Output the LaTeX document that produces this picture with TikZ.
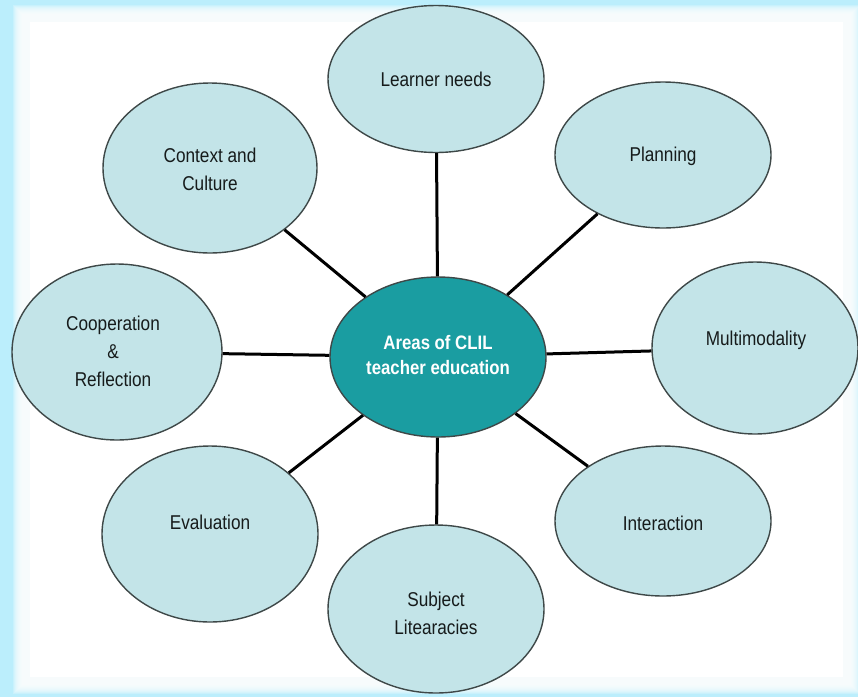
\documentclass[tikz,border=0pt]{standalone}
\usepackage{fontspec}
\setmainfont{Liberation Sans}[FakeStretch=0.86]
\usetikzlibrary{shapes.geometric}
\begin{document}
\begin{tikzpicture}[x=1pt,y=-1pt,
  bubble/.style={ellipse, draw=bord, line width=1.4pt, fill=bub, inner sep=0pt},
  hub/.style={ellipse, draw=bord, line width=1.4pt, fill=hubc, inner sep=0pt},
  lbl/.style={align=center, font=\fontsize{20}{28}\selectfont, text=txt},
  hublbl/.style={align=center, font=\fontsize{19.5}{25}\selectfont\bfseries, text=white},
  spoke/.style={line width=3pt, draw=black}]
\definecolor{frame}{HTML}{BBEEFC}
\definecolor{bub}{HTML}{C3E4E8}
\definecolor{hubc}{HTML}{1A9DA1}
\definecolor{bord}{HTML}{3E4848}
\definecolor{txt}{HTML}{161B1B}
\useasboundingbox (0,0) rectangle (858,697);
% frame
\fill[frame] (0,0) rectangle (858,697);
\foreach \i in {0,...,9}{
  \fill[white, opacity=0.22] ({22-\i},{14-\i}) rectangle ({851+\i},{685+\i});
}
\fill[white] (30,22) rectangle (843,677);
% nodes
\node[hub, minimum width=216pt, minimum height=160pt] (c) at (438,357) {};
\node[bubble, minimum width=216pt, minimum height=147pt] (ln) at (436,79) {};
\node[bubble, minimum width=216pt, minimum height=146pt] (pl) at (663,155) {};
\node[bubble, minimum width=214pt, minimum height=170pt] (cc) at (210,168) {};
\node[bubble, minimum width=210pt, minimum height=176pt] (co) at (117,352) {};
\node[bubble, minimum width=206pt, minimum height=172pt] (mm) at (755,348) {};
\node[bubble, minimum width=216pt, minimum height=176pt] (ev) at (210,534) {};
\node[bubble, minimum width=216pt, minimum height=168pt] (sl) at (436,609) {};
\node[bubble, minimum width=216pt, minimum height=150pt] (in) at (663,521) {};
% labels
\node[hublbl] (tc) at (438,355) {Areas of CLIL\\teacher education};
\node[lbl] (tln) at (436,79) {Learner needs};
\node[lbl] (tpl) at (663,156) {Planning};
\node[lbl] (tcc) at (210,169) {Context and\\Culture};
\node[lbl] (tco) at (113,351) {Cooperation\\\&\\Reflection};
\node[lbl] (tmm) at (756,340) {Multimodality};
\node[lbl] (tev) at (210,522) {Evaluation};
\node[lbl] (tsl) at (436,613) {Subject\\Litearacies};
\node[lbl] (tin) at (663,523) {Interaction};
% spokes
\foreach \n in {ln,pl,cc,co,mm,ev,sl,in}{
  \draw[spoke] (c) -- (\n);
}
\end{tikzpicture}
\end{document}
